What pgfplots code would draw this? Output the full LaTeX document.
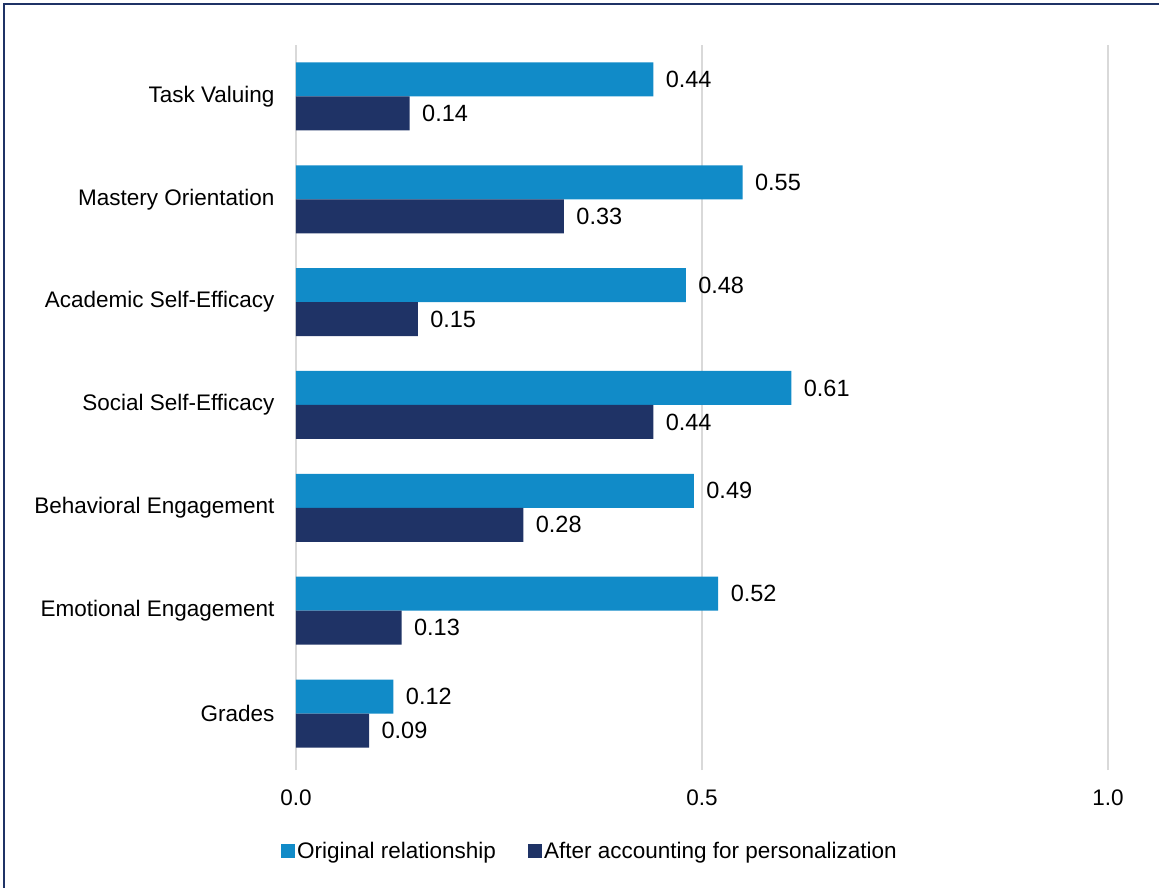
\documentclass[border=0pt]{standalone}
\usepackage{pgfplots}
\pgfplotsset{compat=1.18}
\usepackage{fontspec}
\setmainfont{Liberation Sans}
\definecolor{lblue}{HTML}{118BC8}
\definecolor{navy}{HTML}{1F3366}
\definecolor{gridc}{HTML}{D9D9D9}
\begin{document}
\begin{tikzpicture}
\begin{axis}[
  scale only axis,
  width=812pt, height=720pt,
  xbar, bar width=34pt,
  xmin=0, xmax=1, ymin=-0.5, ymax=6.5,
  xtick={0,0.5,1}, xticklabels={0.0,0.5,1.0},
  ytick={0,...,6},
  yticklabels={Grades,Emotional Engagement,Behavioral Engagement,Social Self-Efficacy,Academic Self-Efficacy,Mastery Orientation,Task Valuing},
  axis line style={draw=none},
  xmajorgrids, major grid style={draw=gridc, line width=1.5pt},
  xtick style={draw=gridc, line width=1.5pt}, ytick style={draw=none},
  tick align=outside, xtick pos=bottom, major tick length=5pt,
  /pgf/number format/assume math mode=true,
  ticklabel style={font=\fontsize{22.5}{26}\selectfont, text=black},
  yticklabel style={xshift=-13pt},
  xticklabel style={yshift=-16pt},
  nodes near coords,
  nodes near coords style={font=\fontsize{23.5}{27}\selectfont, anchor=west, xshift=9pt,
    /pgf/number format/.cd, fixed, fixed zerofill, precision=2, assume math mode=true},
  legend style={draw=none, at={(294pt,-86pt)}, anchor=center, legend columns=2,
    font=\fontsize{22.5}{26}\selectfont,
    /tikz/every even column/.append style={column sep=30pt}},
  legend image code/.code={\fill[#1] (0pt,-7pt) rectangle (14pt,7pt);},
  clip=false,
]
\addplot[draw=none, fill=lblue, bar shift=17pt] coordinates {
(0.12,0) (0.52,1) (0.49,2) (0.61,3) (0.48,4) (0.55,5) (0.44,6)};
\addplot[draw=none, fill=navy, bar shift=-17pt] coordinates {
(0.09,0) (0.13,1) (0.28,2) (0.44,3) (0.15,4) (0.33,5) (0.14,6)};
\legend{Original relationship, After accounting for personalization}
\end{axis}
\pgfresetboundingbox
\path[use as bounding box] (-296pt,-123pt) rectangle (863pt,765pt);
\draw[navy, line width=2pt] (-292pt,-130pt) -- (-292pt,761pt) -- (870pt,761pt);
\end{tikzpicture}
\end{document}
